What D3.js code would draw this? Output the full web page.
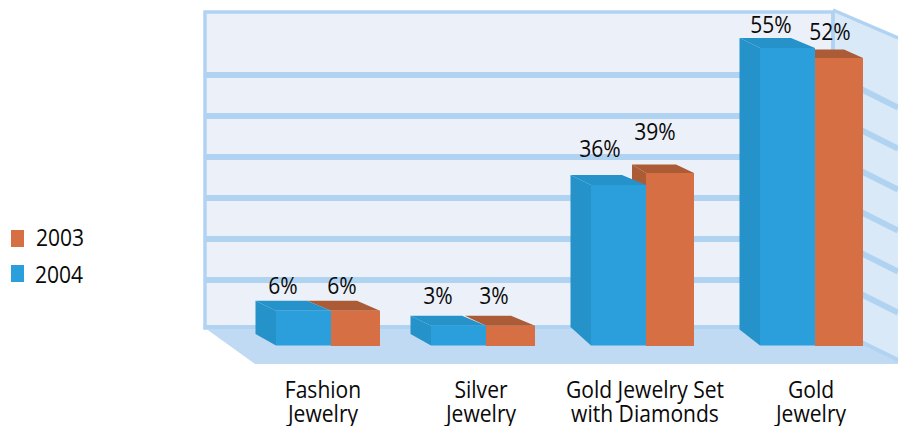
<!DOCTYPE html>
<html>
<head>
<meta charset="utf-8">
<style>
  html, body { margin: 0; padding: 0; background: #fff; }
  svg { display: block; }
  text { font-family: "Open Sans", sans-serif; font-size: 23.4px; fill: #0a0a0a; }
</style>
<script src="https://cdn.jsdelivr.net/npm/d3@7"></script>
</head>
<body>
<svg id="svg" width="898" height="426"></svg>
<script>
const categories = [
  ["Fashion", "Jewelry"],
  ["Silver", "Jewelry"],
  ["Gold Jewelry Set", "with Diamonds"],
  ["Gold", "Jewelry"]
];
const categoryIds = [0, 1, 2, 3];
const years = ["2003", "2004"];
const values2003 = [6, 3, 39, 52];
const values2004 = [6, 3, 36, 55];

function chart() {
  const width = 898;
  const svg = d3.select("#svg");

  const wall = { left: 205, right: 833, top: 12, base: 328, floor: 364, floorLeft: 255 };
  const sideDrop = 0.5;

  // the picture is not drawn to scale (3% and 6% are too tall), so the scale has to bend
  const yScale = d3.scaleLinear()
    .domain([0, 3, 6, 36, 39, 52, 55])
    .range([345.5, 325.7, 310.7, 185, 173, 58, 48]);

  const gridScale = d3.scaleLinear().domain([0, 5]).range([280, 75]);

  // bars are not evenly spaced either
  const xBlue = d3.scaleOrdinal().domain(categoryIds).range([276, 431, 591, 760]);
  const xOrange = d3.scaleOrdinal().domain(categoryIds).range([331, 486, 646, 815]);
  const xLabel = d3.scaleOrdinal().domain(categoryIds).range([323, 481, 645, 811]);

  const blueWidth = 55;
  const orangeWidth = d3.scaleOrdinal().domain(categoryIds).range([49, 49, 48, 48]);

  const depthBottom = d3.scaleOrdinal().domain(categoryIds).range([11.5, 11.5, 18.5, 16]);
  const orangeBackLeft = d3.scaleOrdinal().domain(categoryIds).range([24, 21, 14, 14]);
  const orangeBackRight = d3.scaleOrdinal().domain(categoryIds).range([23, 24, 18, 19]);
  const orangeDepthY = d3.scaleOrdinal().domain(categoryIds).range([10, 10, 8.5, 8.5]);

  const colors = {
    wall: "#ecf0f8", side: "#dae9f8", floor: "#c0daf4", grid: "#b1d3f2",
    blue: "#2b9fdc", blueDark: "#2592c9", orange: "#d66f43", orangeDark: "#ac5b37"
  };

  const poly = (pts, fill) => svg.append("polygon")
    .attr("points", pts.map(p => p.join(",")).join(" "))
    .attr("fill", fill);

  // the original font is narrower than anything installed, squeeze it a bit
  const label = (x, y, str, anchor) => svg.append("text")
    .attr("transform", `translate(${x},${y}) scale(0.9,1)`)
    .attr("text-anchor", anchor)
    .text(str);

  // walls and floor
  poly([[833, wall.top - 2], [width, 38], [width, 362], [833, wall.base]], colors.side);
  svg.append("rect")
    .attr("x", wall.left).attr("y", wall.top)
    .attr("width", wall.right - wall.left).attr("height", wall.base - wall.top)
    .attr("fill", colors.wall)
    .attr("stroke", colors.grid)
    .attr("stroke-width", 3.5);
  poly([[wall.left, wall.base], [wall.floorLeft, wall.floor], [width, wall.floor], [width, wall.base + 33], [wall.right, wall.base]], colors.floor);

  const gridLevels = d3.range(6);
  svg.selectAll(".grid")
    .data(gridLevels)
    .join("line")
    .attr("class", "grid")
    .attr("x1", wall.left).attr("x2", wall.right)
    .attr("y1", d => gridScale(d)).attr("y2", d => gridScale(d))
    .attr("stroke", colors.grid)
    .attr("stroke-width", 6);
  svg.selectAll(".gridSide")
    .data(gridLevels)
    .join("line")
    .attr("class", "gridSide")
    .attr("x1", wall.right).attr("x2", width)
    .attr("y1", d => gridScale(d))
    .attr("y2", d => gridScale(d) + (width - wall.right) * sideDrop)
    .attr("stroke", colors.grid)
    .attr("stroke-width", 6);
  svg.append("line")
    .attr("x1", wall.right).attr("x2", width)
    .attr("y1", wall.top - 2).attr("y2", 38)
    .attr("stroke", colors.grid)
    .attr("stroke-width", 3.5);
  svg.append("line")
    .attr("x1", wall.right).attr("x2", wall.right)
    .attr("y1", wall.top).attr("y2", wall.base)
    .attr("stroke", colors.grid)
    .attr("stroke-width", 3.5);
  svg.append("line")
    .attr("x1", wall.right).attr("x2", width)
    .attr("y1", wall.base).attr("y2", wall.base + 32)
    .attr("stroke", colors.grid)
    .attr("stroke-width", 4);
  svg.append("line")
    .attr("x1", wall.left - 1.5).attr("x2", wall.right)
    .attr("y1", wall.base - 1).attr("y2", wall.base - 1)
    .attr("stroke", colors.grid)
    .attr("stroke-width", 4);

  // orange first, the blue bar sits in front of it
  categoryIds.forEach(i => {
    const x0 = xOrange(i);
    const x1 = x0 + orangeWidth(i);
    const top = yScale(values2003[i]);
    const dy = orangeDepthY(i);
    const backL = x0 - orangeBackLeft(i);
    const backR = x1 - orangeBackRight(i);
    // side face only shows where orange stands above the blue bar
    if (values2003[i] > values2004[i]) {
      const low = yScale(values2004[i]);
      poly([[backL, top - dy], [x0, top], [x0, low], [backL, low]], colors.orangeDark);
    }
    poly([[backL, top - dy], [backR, top - dy], [x1, top], [x0, top]], colors.orangeDark);
    svg.append("rect")
      .attr("x", x0).attr("y", top)
      .attr("width", x1 - x0).attr("height", yScale(0) + 0.5 - top)
      .attr("fill", colors.orange);
  });

  categoryIds.forEach(i => {
    const x0 = xBlue(i);
    const x1 = x0 + blueWidth;
    const top = yScale(values2004[i]);
    const base = yScale(0);
    const dx = 20.5;
    const dy = 10;
    poly([[x0 - dx, top - dy], [x0, top], [x0, base], [x0 - dx, base - depthBottom(i)]], colors.blueDark);
    poly([[x0 - dx, top - dy], [x1 - 24, top - dy], [x1, top], [x0, top]], colors.blueDark);
    svg.append("rect")
      .attr("x", x0).attr("y", top)
      .attr("width", blueWidth).attr("height", base - top)
      .attr("fill", colors.blue);
  });

  // value labels
  const blueLabelX = d3.scaleOrdinal().domain(categoryIds).range([7, 7, 9, 11]);
  const blueLabelY = d3.scaleOrdinal().domain(categoryIds).range([17, 22, 28, 15]);
  const orangeLabelX = d3.scaleOrdinal().domain(categoryIds).range([11, 8, 9, 15]);
  const orangeLabelY = d3.scaleOrdinal().domain(categoryIds).range([17, 22, 33, 18]);

  categoryIds.forEach(i => {
    label(xBlue(i) + blueLabelX(i), yScale(values2004[i]) - blueLabelY(i), values2004[i] + "%", "middle");
    label(xOrange(i) + orangeLabelX(i), yScale(values2003[i]) - orangeLabelY(i), values2003[i] + "%", "middle");
  });

  // category labels
  categoryIds.forEach(i => {
    categories[i].forEach((line, k) => {
      label(xLabel(i), 397.5 + k * 24, line, "middle");
    });
  });

  // legend
  const legendColors = [colors.orange, colors.blue];
  const legendY = d3.scaleOrdinal().domain(years).range([230, 265]);
  const legendTextY = d3.scaleOrdinal().domain(years).range([246, 283]);
  const legendTextX = d3.scaleOrdinal().domain(years).range([36, 35]);
  svg.selectAll(".swatch")
    .data(years)
    .join("rect")
    .attr("class", "swatch")
    .attr("x", 11).attr("y", d => legendY(d))
    .attr("width", 13).attr("height", 17)
    .attr("fill", (d, i) => legendColors[i]);
  years.forEach(y => label(legendTextX(y), legendTextY(y), y, "start"));
}

chart();
</script>
</body>
</html>
